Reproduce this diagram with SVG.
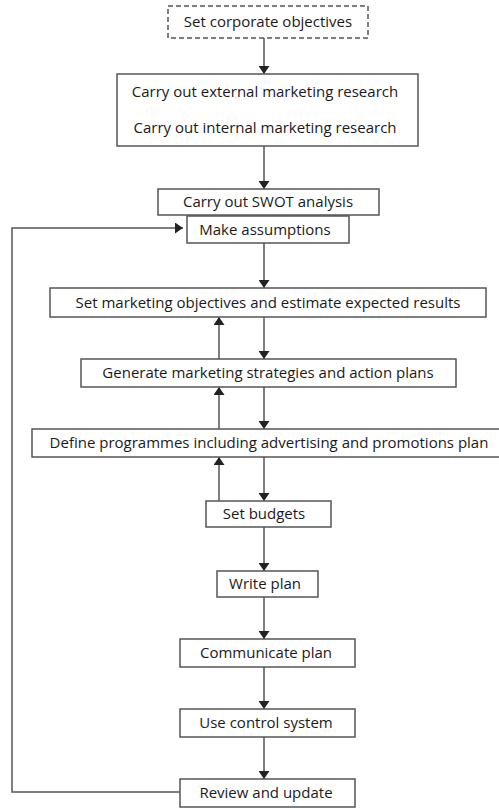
<svg xmlns="http://www.w3.org/2000/svg" width="499" height="808" viewBox="0 0 499 808">
<defs>
<marker id="ah" markerWidth="8" markerHeight="11" refX="8" refY="5.5" orient="auto" markerUnits="userSpaceOnUse">
<path d="M0,0 L8,5.5 L0,11 Z" fill="#222"/>
</marker>
<style>
.box{fill:#fff;stroke:#555;stroke-width:1.5}
.dash{stroke-dasharray:5,3}
.t{font-family:"Open Sans","Liberation Sans",sans-serif;font-size:15px;fill:#1a1a1a;text-anchor:middle}
.c{stroke:#555;stroke-width:1.5;fill:none}
</style>
</defs>
<rect width="499" height="808" fill="#fff"/>
<g id="connectors">
<line class="c" x1="264" y1="38" x2="264" y2="74" marker-end="url(#ah)"/>
<line class="c" x1="264" y1="146" x2="264" y2="189" marker-end="url(#ah)"/>
<line class="c" x1="264" y1="243" x2="264" y2="288" marker-end="url(#ah)"/>
<line class="c" x1="264" y1="317" x2="264" y2="359" marker-end="url(#ah)"/>
<line class="c" x1="264" y1="387" x2="264" y2="429" marker-end="url(#ah)"/>
<line class="c" x1="264" y1="457" x2="264" y2="501" marker-end="url(#ah)"/>
<line class="c" x1="264" y1="527" x2="264" y2="571" marker-end="url(#ah)"/>
<line class="c" x1="264" y1="597" x2="264" y2="639" marker-end="url(#ah)"/>
<line class="c" x1="264" y1="667" x2="264" y2="709" marker-end="url(#ah)"/>
<line class="c" x1="264" y1="737" x2="264" y2="779" marker-end="url(#ah)"/>
<line class="c" x1="219" y1="359" x2="219" y2="317" marker-end="url(#ah)"/>
<line class="c" x1="219" y1="429" x2="219" y2="387" marker-end="url(#ah)"/>
<line class="c" x1="219" y1="501" x2="219" y2="457" marker-end="url(#ah)"/>
<path class="c" d="M180,792 H12 V228 H183" marker-end="url(#ah)"/>
</g>
<g id="n1"><rect class="box dash" x="168" y="6" width="200" height="32"/><text class="t" x="268" y="27">Set corporate objectives</text></g>
<g id="n2"><rect class="box" x="117" y="74" width="301" height="72"/><text class="t" x="265" y="97">Carry out external marketing research</text><text class="t" x="265" y="133">Carry out internal marketing research</text></g>
<g id="n3"><rect class="box" x="158" y="189" width="221" height="26"/><text class="t" x="268" y="207">Carry out SWOT analysis</text></g>
<g id="n4"><rect class="box" x="187" y="216" width="162" height="27"/><text class="t" x="265" y="234.5">Make assumptions</text></g>
<g id="n5"><rect class="box" x="50" y="288" width="436" height="29"/><text class="t" x="268" y="307.5">Set marketing objectives and estimate expected results</text></g>
<g id="n6"><rect class="box" x="81" y="359" width="375" height="28"/><text class="t" x="268" y="378">Generate marketing strategies and action plans</text></g>
<g id="n7"><rect class="box" x="32" y="429" width="480" height="28"/><text class="t" x="269" y="448">Define programmes including advertising and promotions plan</text></g>
<g id="n8"><rect class="box" x="206" y="501" width="125" height="26"/><text class="t" x="264" y="519">Set budgets</text></g>
<g id="n9"><rect class="box" x="217" y="571" width="101" height="26"/><text class="t" x="265" y="589">Write plan</text></g>
<g id="n10"><rect class="box" x="180" y="639" width="175" height="28"/><text class="t" x="266" y="658">Communicate plan</text></g>
<g id="n11"><rect class="box" x="180" y="709" width="175" height="28"/><text class="t" x="266" y="728">Use control system</text></g>
<g id="n12"><rect class="box" x="180" y="779" width="175" height="28"/><text class="t" x="266" y="798">Review and update</text></g>
</svg>
